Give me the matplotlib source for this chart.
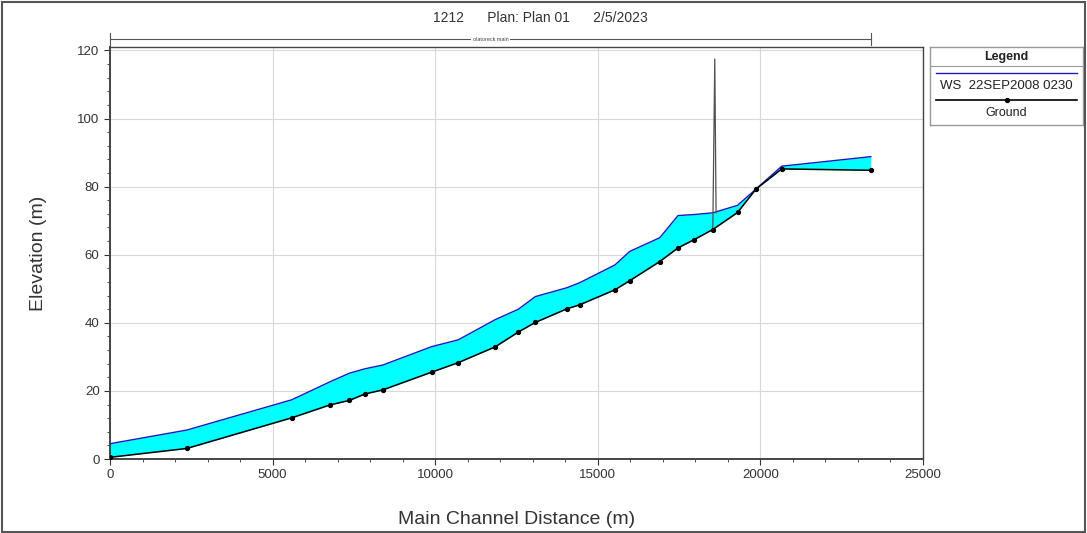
import matplotlib.pyplot as plt
import matplotlib.transforms as mtransforms
from matplotlib.patches import Rectangle
from matplotlib.ticker import MultipleLocator

plt.rcParams["font.family"] = ["Liberation Sans", "DejaVu Sans"]

TITLE = "1212      Plan: Plan 01      2/5/2023"
REACH_NAME = "olatoreck main"
REACH_END = 23400

stations = [0, 2360, 5590, 6770, 7360, 7840, 8390, 9890, 10710, 11840, 12560,
            13080, 14050, 14450, 15530, 15990, 16910, 17470, 17960, 18540,
            19300, 19870, 20660, 23400]
ground = [0.5, 3.1, 12.1, 15.9, 17.2, 19.1, 20.3, 25.5, 28.3, 32.9, 37.3,
          40.1, 44.1, 45.3, 49.7, 52.4, 58.0, 62.0, 64.4, 67.4,
          72.4, 79.3, 85.2, 84.8]
ws = [4.5, 8.5, 17.4, 22.7, 25.2, 26.5, 27.6, 33.0, 35.0, 40.9, 44.0,
      47.7, 50.3, 51.8, 57.0, 61.0, 65.0, 71.5, 71.8, 72.3,
      74.5, 79.3, 86.0, 88.8]

# structure drawn as a spike near 18.6 km
spike_x = [18540, 18600, 18640]
spike_y = [67.4, 117.5, 72.3]

fig = plt.figure(figsize=(10.87, 5.33), dpi=100)
ax = fig.add_axes([0.1012, 0.1388, 0.7478, 0.773])

ax.fill_between(stations, ground, ws, color="#00ffff", lw=0, zorder=2)
ax.plot(stations, ws, color="#1a1ac0", lw=1.0, zorder=3)
ax.plot(spike_x, spike_y, color="#505050", lw=0.9, zorder=3)
ax.plot(stations, ground, color="black", lw=1.1, marker="o", ms=2.8, zorder=4)

ax.set_xlim(0, 25000)
ax.set_ylim(0, 121)
ax.xaxis.set_major_locator(MultipleLocator(5000))
ax.xaxis.set_minor_locator(MultipleLocator(1000))
ax.yaxis.set_major_locator(MultipleLocator(20))
ax.yaxis.set_minor_locator(MultipleLocator(4))
ax.grid(True, which="major", color="#d8d8d8", lw=0.8, zorder=0)
ax.set_axisbelow(True)
ax.tick_params(which="both", direction="out", colors="#333333", labelsize=9.5)
ax.tick_params(which="major", length=4)
ax.tick_params(which="minor", length=2.5)
for s in ax.spines.values():
    s.set_color("#444444")
    s.set_linewidth(1.0)
ax.spines["left"].set_linewidth(1.4)
ax.spines["bottom"].set_linewidth(1.4)

ax.set_xlabel("Main Channel Distance (m)", fontsize=14, color="#333333", labelpad=21)
ax.set_ylabel("Elevation (m)", fontsize=14, color="#333333", labelpad=22)

fig.text(0.497, 0.966, TITLE, ha="center", va="center", fontsize=10, color="#333333")

# reach bracket above the plot
trans = mtransforms.blended_transform_factory(ax.transData, ax.transAxes)
ax.plot([0, REACH_END], [1.019, 1.019], color="#555555", lw=0.8, transform=trans, clip_on=False)
for xe in (0, REACH_END):
    ax.plot([xe, xe], [1.005, 1.035], color="#555555", lw=0.8, transform=trans, clip_on=False)
ax.text(REACH_END / 2, 1.019, REACH_NAME, transform=trans, ha="center", va="center",
        fontsize=4, color="#444444", bbox=dict(facecolor="white", edgecolor="none", pad=1))

# legend panel
lax = fig.add_axes([0.8556, 0.7655, 0.1408, 0.1463])
lax.set_xlim(0, 1)
lax.set_ylim(0, 1)
lax.set_xticks([])
lax.set_yticks([])
for s in lax.spines.values():
    s.set_color("#999999")
    s.set_linewidth(1.0)
lax.text(0.5, 0.872, "Legend", ha="center", va="center", fontsize=9, color="#222222", fontweight="bold")
lax.plot([0, 1], [0.756, 0.756], color="#999999", lw=0.8)
lax.plot([0.04, 0.96], [0.667, 0.667], color="#1a1ac0", lw=1.0)
lax.text(0.5, 0.50, "WS  22SEP2008 0230", ha="center", va="center", fontsize=9.5, color="#222222")
lax.plot([0.04, 0.96], [0.32, 0.32], color="black", lw=1.2)
lax.plot([0.5], [0.32], color="black", marker="o", ms=2.8)
lax.text(0.5, 0.16, "Ground", ha="center", va="center", fontsize=9, color="#222222")

# outer frame
fig.patches.append(Rectangle((0.002, 0.002), 0.996, 0.994, transform=fig.transFigure,
                             fill=False, edgecolor="#555555", lw=1.5))

fig.savefig("out.png", dpi=100)
